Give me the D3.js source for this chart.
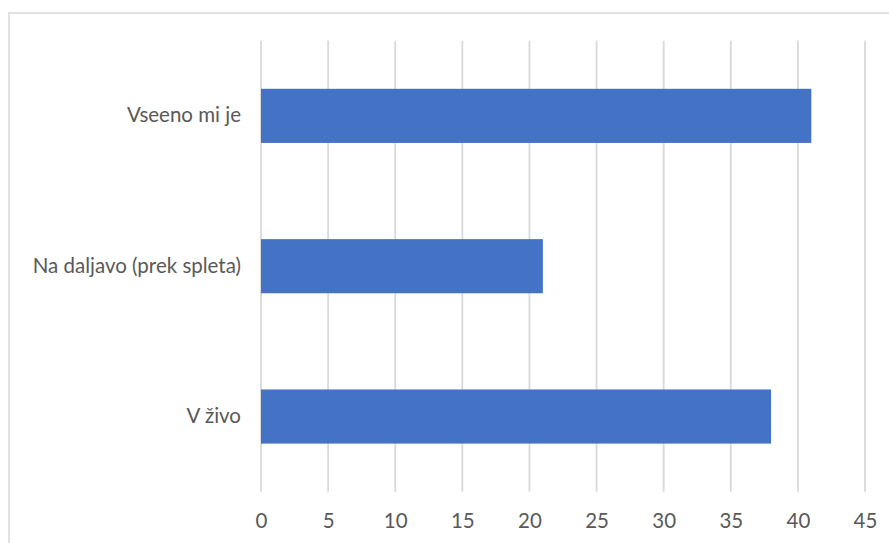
<!DOCTYPE html>
<html>
<head>
<meta charset="utf-8">
<script src="https://cdn.jsdelivr.net/npm/d3@7"></script>
<style>
  html, body { margin: 0; padding: 0; background: #fff; }
  svg { display: block; }
  text { font-family: Lato, "Open Sans", sans-serif; fill: #595959; }
</style>
</head>
<body>
<svg id="chart" width="889" height="543"></svg>
<script>
const categories = ["Vseeno mi je", "Na daljavo (prek spleta)", "V živo"];
const values = [41, 21, 38];
const xTicks = [0, 5, 10, 15, 20, 25, 30, 35, 40, 45];

const svg = d3.select("#chart");
const FONT = 20.5;

// chart border
svg.append("rect")
  .attr("x", 9).attr("y", 13)
  .attr("width", 890).attr("height", 560)
  .attr("fill", "none").attr("stroke", "#d9d9d9").attr("stroke-width", 1.5);

const plot = { left: 261, right: 865, top: 40.7, bottom: 491.7 };

const x = d3.scaleLinear().domain([0, 45]).range([plot.left, plot.right]);
const y = d3.scaleBand().domain(categories).range([plot.top, plot.bottom])
  .paddingInner(0.64).paddingOuter(0.32);

// gridlines
svg.append("g").selectAll("line").data(xTicks).join("line")
  .attr("x1", d => x(d)).attr("x2", d => x(d))
  .attr("y1", plot.top).attr("y2", plot.bottom)
  .attr("stroke", "#d9d9d9").attr("stroke-width", 1.8);

// bars
svg.append("g").selectAll("rect").data(categories).join("rect")
  .attr("x", x(0))
  .attr("y", d => y(d))
  .attr("width", (d, i) => x(values[i]) - x(0))
  .attr("height", y.bandwidth())
  .attr("fill", "#4472c4");

// x axis labels
const xAxis = d3.axisBottom(x).tickValues(xTicks).tickSize(0).tickPadding(0);
const gx = svg.append("g").attr("transform", `translate(0, ${plot.bottom + 22})`).call(xAxis);
gx.select(".domain").remove();
gx.selectAll("text").attr("font-size", FONT).attr("font-family", "Lato, 'Open Sans', sans-serif").attr("fill", "#595959");

// y axis labels
const yAxis = d3.axisLeft(y).tickSize(0).tickPadding(20);
const gy = svg.append("g").attr("transform", `translate(${plot.left}, 0)`).call(yAxis);
gy.select(".domain").remove();
gy.selectAll("text").attr("font-size", FONT).attr("font-family", "Lato, 'Open Sans', sans-serif").attr("fill", "#595959");
</script>
</body>
</html>
